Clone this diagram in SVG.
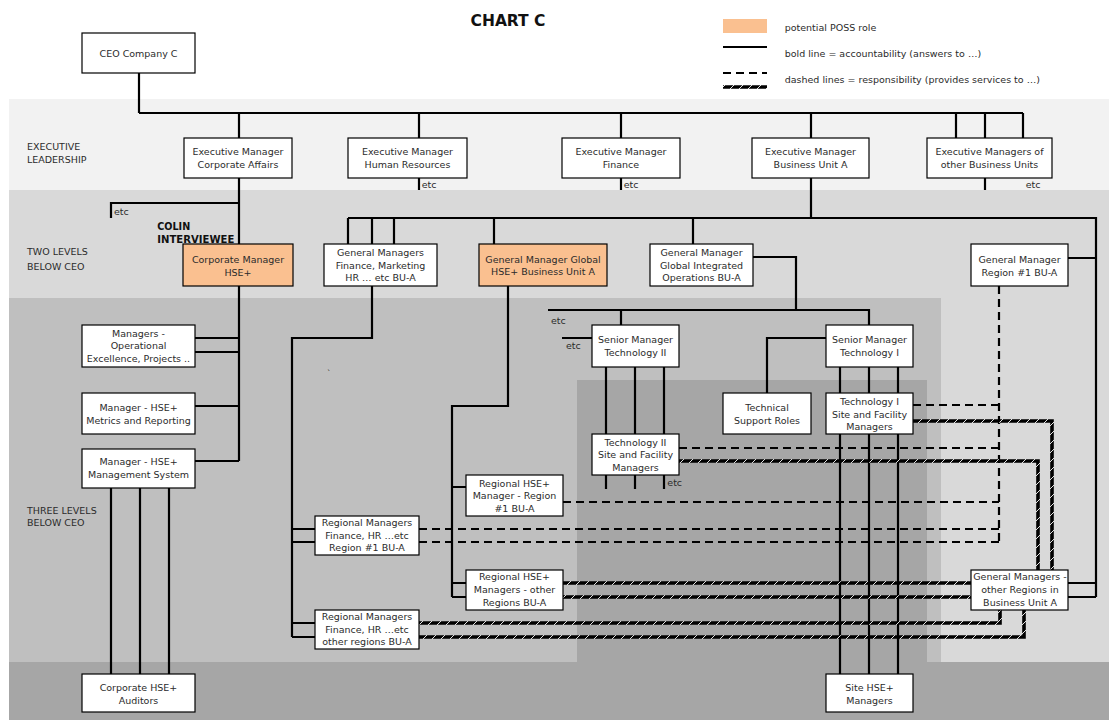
<svg xmlns="http://www.w3.org/2000/svg" width="1109" height="720" viewBox="0 0 1109 720">
<defs>
<pattern id="hatch" patternUnits="userSpaceOnUse" width="9" height="9">
<rect width="9" height="9" fill="#000"/>
<line x1="0" y1="9" x2="9" y2="0" stroke="#fff" stroke-width="0.9"/>
</pattern>
<style>
text{font-family:"DejaVu Sans",Verdana,sans-serif;font-size:9.5px;fill:#2b2b2b}
.c{text-anchor:middle}
.b{font-weight:bold;font-size:9.6px;fill:#111}
.t{font-weight:bold;font-size:15.5px;fill:#111}
.box{fill:#fff;stroke:#000;stroke-width:1.2}
.poss{fill:#FAC090;stroke:#000;stroke-width:1.2}
.s{fill:none;stroke:#000;stroke-width:2.2}
.d{fill:none;stroke:#000;stroke-width:2.2;stroke-dasharray:8 5}
.h{fill:none;stroke:url(#hatch);stroke-width:3.6}
</style>
</defs>
<rect width="1109" height="720" fill="#fff"/>
<g id="bands">
<rect x="9" y="99" width="1100" height="91" fill="#F2F2F2"/>
<rect x="9" y="190" width="1100" height="472" fill="#D9D9D9"/>
<rect x="9" y="298" width="932" height="364" fill="#BFBFBF"/>
<rect x="577" y="380" width="350" height="282" fill="#A6A6A6"/>
<rect x="9" y="662" width="1100" height="58" fill="#A6A6A6"/>
</g>
<text class="t c" x="508" y="25.7">CHART C</text>
<g id="legend">
<rect x="723" y="19" width="44" height="14" fill="#FAC090"/>
<path class="s" d="M723,47 H767"/>
<path class="d" d="M723,73 H767"/>
<path class="h" d="M723,87 H767"/>
<text x="784.7" y="31">potential POSS role</text>
<text x="784.7" y="57">bold line = accountability (answers to …)</text>
<text x="784.7" y="83">dashed lines = responsibility (provides services to …)</text>
</g>
<g id="level-labels">
<text x="27" y="150.3">EXECUTIVE</text>
<text x="27" y="163">LEADERSHIP</text>
<text x="27" y="255.3">TWO LEVELS</text>
<text x="27" y="269.5">BELOW CEO</text>
<text x="27" y="514.3">THREE LEVELS</text>
<text x="27" y="526.3">BELOW CEO</text>
</g>
<g id="connectors">
<path class="s" d="M139,73 V113 M139,113 H1023 M239,113 V138 M419,113 V138 M621,113 V138 M811,113 V138 M956,113 V138 M985,113 V138 M1023,113 V138"/>
<path class="s" d="M239,178 V244 M239,203 H111 V218 M419,178 V190 M621,178 V190 M985,178 V190 M811,178 V218"/>
<path class="s" d="M348,218 H1096 V597 M348,218 V244 M372,218 V244 M394,218 V244 M494,218 V244 M693,218 V244 M1068,258 H1096 M1067,583 H1096 M1067,597 H1096"/>
<path class="s" d="M239,286 V461 M195,338 H239 M195,352 H239 M195,406 H239 M195,461 H239 M111,488 V674 M140,488 V674 M169,488 V674"/>
<path class="s" d="M372,286 V338 H292 V637 M292,529 H315 M292,542 H315 M292,623 H315 M292,637 H315"/>
<path class="s" d="M508,286 V406 H452 V597 M452,487 H466 M452,583 H466 M452,597 H466"/>
<path class="s" d="M753,257 H796 V310 M548,310 H869 V325 M621,310 V325 M562,338 H592"/>
<path class="s" d="M826,338 H767 V393 M840,367 V674 M869,367 V674 M898,367 V674 M606,367 V489 M635,367 V489 M664,367 V489"/>
<path class="d" d="M999,286 V542 M913,405 H999 M679,448 H999 M563,502 H999 M419,529 H999 M419,542 H999"/>
<path class="h" d="M913,421 H1052 V570 M679,461 H1038 V570 M563,583 H971 M563,597 H971 M419,623 H1000 V610 M419,637 H1024 V610"/>
<text x="114" y="215">etc</text>
<text x="421.7" y="188">etc</text>
<text x="623.7" y="188">etc</text>
<text x="1025.7" y="188">etc</text>
<text x="551" y="323.5">etc</text>
<text x="566" y="349">etc</text>
<text x="667.3" y="486">etc</text>
<text x="327" y="377" style="font-size:8px">`</text>
</g>
<g id="ceo"><rect class="box" x="82" y="33" width="113" height="40"/><text class="c" x="138.5" y="56.5">CEO Company C</text></g>
<g id="em-corporate-affairs"><rect class="box" x="184" y="138" width="108" height="40"/><text class="c" x="238" y="155.2">Executive Manager</text><text class="c" x="238" y="167.8">Corporate Affairs</text></g>
<g id="em-hr"><rect class="box" x="348" y="138" width="119" height="40"/><text class="c" x="407.5" y="155.2">Executive Manager</text><text class="c" x="407.5" y="167.8">Human Resources</text></g>
<g id="em-finance"><rect class="box" x="562" y="138" width="118" height="40"/><text class="c" x="621" y="155.2">Executive Manager</text><text class="c" x="621" y="167.8">Finance</text></g>
<g id="em-bua"><rect class="box" x="752" y="138" width="117" height="40"/><text class="c" x="810.5" y="155.2">Executive Manager</text><text class="c" x="810.5" y="167.8">Business Unit A</text></g>
<g id="em-other"><rect class="box" x="927" y="138" width="125" height="40"/><text class="c" x="989.5" y="155.2">Executive Managers of</text><text class="c" x="989.5" y="167.8">other Business Units</text></g>
<g id="colin"><text class="b" x="157.3" y="230.3">COLIN</text><text class="b" x="157.3" y="242.5" textLength="77" lengthAdjust="spacingAndGlyphs">INTERVIEWEE</text></g>
<g id="corp-mgr-hse"><rect class="poss" x="183" y="244" width="110" height="42"/><text class="c" x="238" y="262.8">Corporate Manager</text><text class="c" x="238" y="275.5">HSE+</text></g>
<g id="gm-finance"><rect class="box" x="324" y="244" width="113" height="42"/><text class="c" x="380.5" y="256.1">General Managers</text><text class="c" x="380.5" y="268.5">Finance, Marketing</text><text class="c" x="380.5" y="280.9">HR … etc BU-A</text></g>
<g id="gm-global-hse"><rect class="poss" x="479" y="244" width="128" height="42"/><text class="c" x="543" y="262.8">General Manager Global</text><text class="c" x="543" y="275.2">HSE+ Business Unit A</text></g>
<g id="gm-global-int"><rect class="box" x="650" y="244" width="103" height="42"/><text class="c" x="701.5" y="256.1">General Manager</text><text class="c" x="701.5" y="268.5">Global Integrated</text><text class="c" x="701.5" y="280.9">Operations BU-A</text></g>
<g id="gm-region1"><rect class="box" x="971" y="244" width="97" height="42"/><text class="c" x="1019.5" y="262.8">General Manager</text><text class="c" x="1019.5" y="275.5">Region #1 BU-A</text></g>
<g id="mgr-opex"><rect class="box" x="82" y="325" width="113" height="42"/><text class="c" x="138.5" y="336.5">Managers -</text><text class="c" x="138.5" y="349.1">Operational</text><text class="c" x="138.5" y="361.7">Excellence, Projects ..</text></g>
<g id="mgr-metrics"><rect class="box" x="82" y="393" width="113" height="41"/><text class="c" x="138.5" y="411">Manager - HSE+</text><text class="c" x="138.5" y="423.5">Metrics and Reporting</text></g>
<g id="mgr-ms"><rect class="box" x="82" y="449" width="113" height="39"/><text class="c" x="138.5" y="465">Manager - HSE+</text><text class="c" x="138.5" y="477.8">Management System</text></g>
<g id="auditors"><rect class="box" x="82" y="674" width="113" height="38"/><text class="c" x="138.5" y="691.2">Corporate HSE+</text><text class="c" x="138.5" y="703.8">Auditors</text></g>
<g id="reg-mgr-r1"><rect class="box" x="315" y="516" width="104" height="39"/><text class="c" x="367" y="526.2">Regional Managers</text><text class="c" x="367" y="538.8">Finance, HR …etc</text><text class="c" x="367" y="551.2">Region #1 BU-A</text></g>
<g id="reg-mgr-other"><rect class="box" x="315" y="610" width="104" height="39"/><text class="c" x="367" y="620.2">Regional Managers</text><text class="c" x="367" y="632.8">Finance, HR …etc</text><text class="c" x="367" y="645.2">other regions BU-A</text></g>
<g id="reg-hse-r1"><rect class="box" x="466" y="475" width="97" height="41"/><text class="c" x="514.5" y="486.5">Regional HSE+</text><text class="c" x="514.5" y="499.2">Manager - Region</text><text class="c" x="514.5" y="511.8">#1 BU-A</text></g>
<g id="reg-hse-other"><rect class="box" x="466" y="570" width="97" height="40"/><text class="c" x="514.5" y="580.2">Regional HSE+</text><text class="c" x="514.5" y="592.8">Managers - other</text><text class="c" x="514.5" y="605.5">Regions BU-A</text></g>
<g id="sm-tech2"><rect class="box" x="592" y="325" width="87" height="42"/><text class="c" x="635.5" y="343">Senior Manager</text><text class="c" x="635.5" y="355.5">Technology II</text></g>
<g id="sm-tech1"><rect class="box" x="826" y="325" width="87" height="42"/><text class="c" x="869.5" y="343">Senior Manager</text><text class="c" x="869.5" y="355.5">Technology I</text></g>
<g id="tech-support"><rect class="box" x="723" y="393" width="88" height="41"/><text class="c" x="767" y="411">Technical</text><text class="c" x="767" y="423.5">Support Roles</text></g>
<g id="tech1-site"><rect class="box" x="826" y="393" width="87" height="41"/><text class="c" x="869.5" y="405.2">Technology I</text><text class="c" x="869.5" y="417.8">Site and Facility</text><text class="c" x="869.5" y="430.2">Managers</text></g>
<g id="tech2-site"><rect class="box" x="592" y="434" width="87" height="41"/><text class="c" x="635.5" y="445.5">Technology II</text><text class="c" x="635.5" y="458.1">Site and Facility</text><text class="c" x="635.5" y="470.7">Managers</text></g>
<g id="gm-other-regions"><rect class="box" x="971" y="570" width="97" height="40"/><text class="c" x="1020" y="580.2">General Managers -</text><text class="c" x="1020" y="592.8">other Regions in</text><text class="c" x="1020" y="606">Business Unit A</text></g>
<g id="site-hse"><rect class="box" x="826" y="674" width="87" height="38"/><text class="c" x="869.5" y="691.2">Site HSE+</text><text class="c" x="869.5" y="703.8">Managers</text></g>
</svg>
